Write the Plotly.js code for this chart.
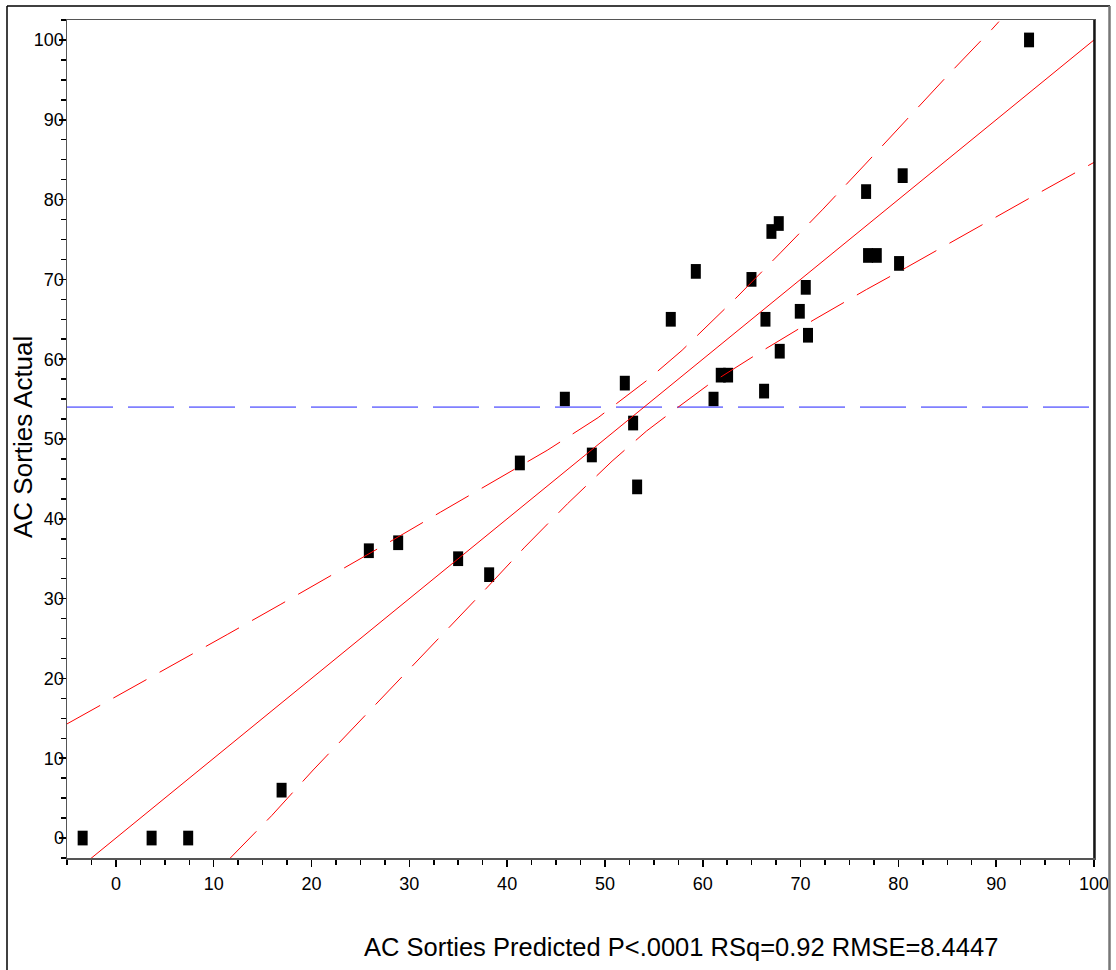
<!DOCTYPE html>
<html>
<head>
<meta charset="utf-8">
<script src="https://cdn.plot.ly/plotly-3.0.1.min.js"></script>
<style>
  html, body { margin: 0; padding: 0; background: #ffffff; }
  #chart { width: 1116px; height: 970px; }
</style>
</head>
<body>
<div id="chart"></div>
<script>
// Actual by predicted: AC sorties
const predicted = [-3.40, 3.65, 7.39, 16.94, 25.86, 28.86, 34.99, 38.16, 41.30, 45.90,
  48.66, 52.03, 52.88, 53.29, 56.73, 59.29, 61.10, 61.84, 62.59, 64.98,
  66.41, 66.27, 67.02, 67.77, 67.87, 69.92, 70.53, 70.76, 76.70, 76.90,
  77.79, 80.07, 80.44, 93.36];
const actual = [0, 0, 0, 6, 36, 37, 35, 33, 47, 55,
  48, 57, 52, 44, 65, 71, 55, 58, 58, 70,
  65, 56, 76, 77, 61, 66, 69, 63, 81, 73,
  73, 72, 83, 100];

// Fit line (actual = predicted)
const fitX = [-5, 100];
const fitY = [-5, 100];

// Mean of the response
const meanActual = 54;
const meanX = [-5, 100];

// Confidence curves around the fit
const upperX = [-5.0, 0.41, 5.93, 11.38, 16.87, 22.3, 27.77, 33.19, 38.64, 44.09,
  49.3, 53.12, 54.31, 57.89, 59.01, 63.51, 67.94, 72.29, 76.63, 80.89, 85.18, 89.57, 90.28];
const upperY = [14.3, 17.97, 21.74, 25.5, 29.3, 33.06, 36.95, 40.84, 44.73, 48.58,
  52.68, 56.19, 57.36, 61.12, 62.46, 67.8, 73.32, 78.8, 84.45, 90.1, 95.74, 101.34, 102.3];
const lowerX = [11.65, 13.52, 15.92, 20.17, 24.5, 28.86, 33.19, 37.65, 41.8, 46.17,
  50.73, 54.25, 57.14, 60.5, 65.9, 71.28, 76.73, 80.82, 93.15, 97.28, 100];
const lowerY = [-2.56, -0.25, 2.8, 8.53, 14.08, 19.73, 25.25, 31.0, 36.45, 41.89,
  47.23, 51.0, 53.68, 56.73, 60.91, 64.88, 68.73, 71.49, 80.0, 82.78, 84.66];

const tickValues = [0, 10, 20, 30, 40, 50, 60, 70, 80, 90, 100];
const tickLabels = ['0', '10', '20', '30', '40', '50', '60', '70', '80', '90', '100'];

const xTitle = 'AC Sorties Predicted P&lt;.0001 RSq=0.92 RMSE=8.4447';
const yTitle = 'AC Sorties Actual';

// page geometry
const W = 1116, H = 970;
const M = { l: 67, r: 22, t: 20, b: 112 };
const plotW = W - M.l - M.r, plotH = H - M.t - M.b;
const px2paperX = px => (px - M.l) / plotW;
const px2paperY = py => (H - M.b - py) / plotH;

const FONT = 'Liberation Sans, Arial, Helvetica, sans-serif';

const traces = [
  {
    x: predicted, y: actual, type: 'scatter', mode: 'markers',
    marker: { symbol: 'line-ns', size: 10.5, color: '#000000',
      line: { width: 10, color: '#000000' } },
    hoverinfo: 'skip', showlegend: false
  },
  {
    x: meanX, y: meanX.map(() => meanActual), type: 'scatter', mode: 'lines',
    line: { color: '#8080ff', width: 1.6, dash: '46px,15px' },
    hoverinfo: 'skip', showlegend: false
  },
  {
    x: fitX, y: fitY, type: 'scatter', mode: 'lines',
    line: { color: '#ff0000', width: 1 },
    hoverinfo: 'skip', showlegend: false
  },
  {
    x: upperX, y: upperY, type: 'scatter', mode: 'lines',
    line: { color: '#ff0000', width: 1, dash: '38px,15px' },
    hoverinfo: 'skip', showlegend: false
  },
  {
    x: lowerX, y: lowerY, type: 'scatter', mode: 'lines',
    line: { color: '#ff0000', width: 1, dash: '38px,15px' },
    hoverinfo: 'skip', showlegend: false
  }
];

const axisCommon = {
  showgrid: false, zeroline: false,
  showline: true, linecolor: '#555555', linewidth: 1.5, mirror: true,
  ticks: 'outside', ticklen: 7, tickwidth: 1.5, tickcolor: '#000000',
  tickmode: 'array', tickvals: tickValues, ticktext: tickLabels,
  tickfont: { family: FONT, size: 18, color: '#000000' },
  minor: { dtick: 2.5, tick0: 0, ticks: 'outside', ticklen: 5, tickwidth: 1.5, tickcolor: '#000000', showgrid: false },
  fixedrange: true
};

const layout = {
  width: W, height: H,
  margin: M,
  paper_bgcolor: '#ffffff', plot_bgcolor: '#ffffff',
  font: { family: FONT, color: '#000000' },
  xaxis: Object.assign({}, axisCommon, { range: [-5, 100], ticklabelstandoff: 2 }),
  yaxis: Object.assign({}, axisCommon, { range: [-2.5, 102.5], ticklabelstandoff: -9 }),
  annotations: [
    { text: xTitle, xref: 'paper', yref: 'paper',
      x: px2paperX(681), y: px2paperY(947), xanchor: 'center', yanchor: 'middle',
      showarrow: false, font: { family: FONT, size: 25.5, color: '#000000' } },
    { text: yTitle, xref: 'paper', yref: 'paper', textangle: -90,
      x: px2paperX(23), y: px2paperY(437), xanchor: 'center', yanchor: 'middle',
      showarrow: false, font: { family: FONT, size: 26, color: '#000000' } }
  ],
  shapes: [
    // frame around the whole report
    { type: 'line', xref: 'paper', yref: 'paper', x0: px2paperX(7), x1: px2paperX(7),
      y0: px2paperY(6), y1: px2paperY(975), line: { color: '#000000', width: 1.5 } },
    { type: 'line', xref: 'paper', yref: 'paper', x0: px2paperX(7), x1: px2paperX(1110),
      y0: px2paperY(6), y1: px2paperY(6), line: { color: '#000000', width: 1.5 } },
    { type: 'line', xref: 'paper', yref: 'paper', x0: px2paperX(1109.5), x1: px2paperX(1109.5),
      y0: px2paperY(6), y1: px2paperY(975), line: { color: '#777777', width: 2.5 } },
    // right edge of the plot frame
    { type: 'line', xref: 'paper', yref: 'paper', x0: 1, x1: 1, y0: 0, y1: 1,
      line: { color: '#000000', width: 1.5 } }
  ],
  hovermode: false
};

Plotly.newPlot('chart', traces, layout, { displayModeBar: false, staticPlot: true });
</script>
</body>
</html>
